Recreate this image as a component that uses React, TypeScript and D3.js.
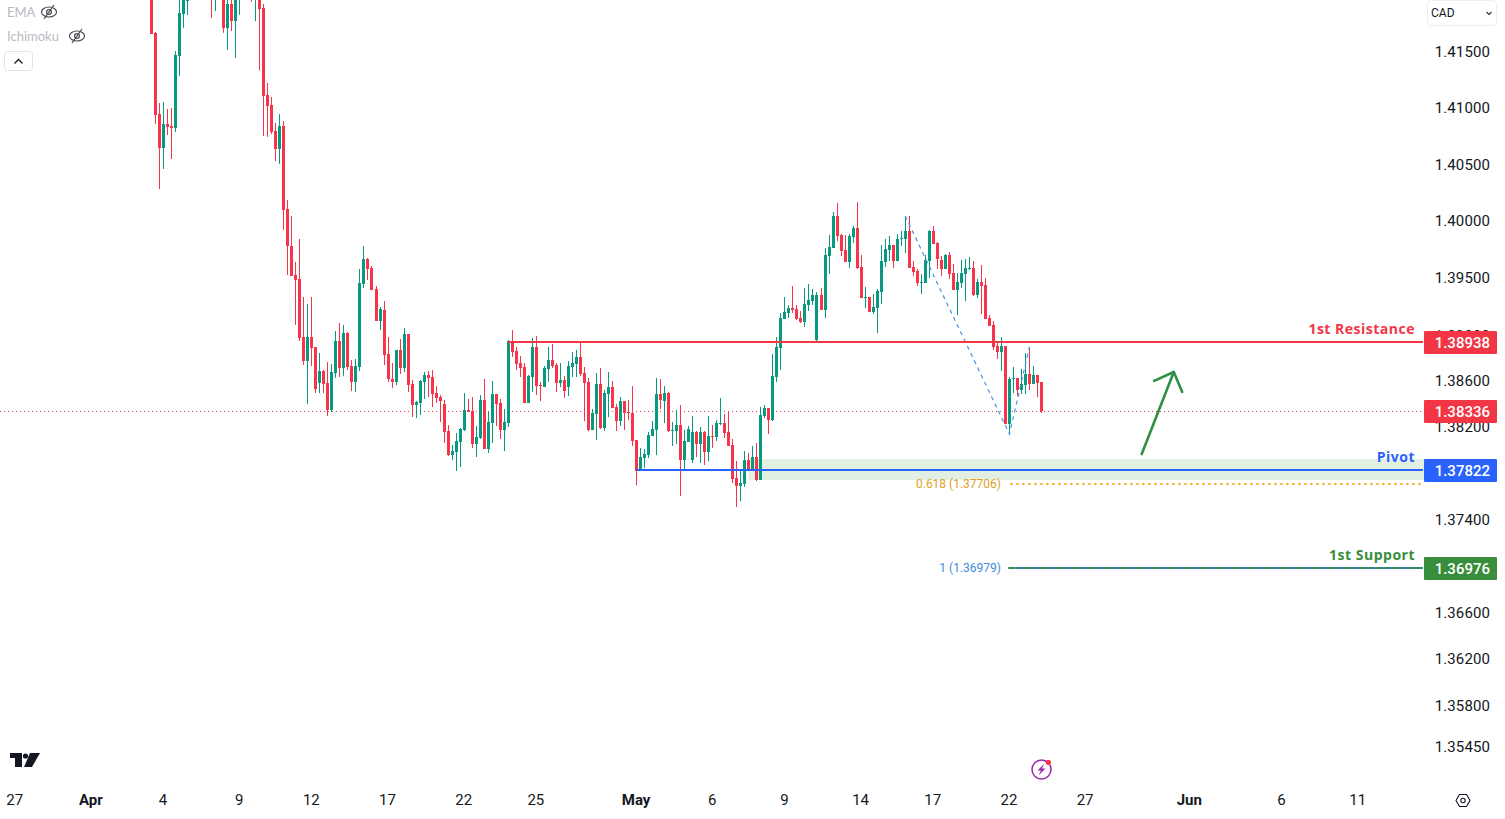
import React, { useEffect, useRef } from "react";
import * as d3 from "d3";

const opens = [
  1.42132,1.41660,1.40942,1.40640,1.40853,1.40835,1.40818,1.41456,1.41829,1.41945,
  1.42078,1.42180,1.42320,1.42250,1.42350,1.42280,1.42050,1.42220,1.42120,1.41705,
  1.41918,1.41767,1.41990,1.42150,1.42250,1.42120,1.42000,1.42180,1.41883,1.41110,
  1.41021,1.40791,1.40631,1.40835,1.40103,1.39777,1.39523,1.39488,1.38980,1.38771,
  1.38980,1.38893,1.38579,1.38684,1.38579,1.38344,1.38667,1.38945,1.38710,1.39015,
  1.38727,1.38588,1.38719,1.39444,1.39663,1.39584,1.39400,1.39120,1.39216,1.38832,
  1.38614,1.38588,1.38867,1.38710,1.39006,1.38570,1.38388,1.38405,1.38588,1.38649,
  1.38632,1.38492,1.38457,1.38396,1.38161,1.37953,1.37980,1.38067,1.38170,1.38344,
  1.38335,1.38049,1.38101,1.38431,1.38006,1.38231,1.38483,1.38405,1.38170,1.38231,
  1.38937,1.38858,1.38754,1.38719,1.38405,1.38632,1.38893,1.38562,1.38544,1.38701,
  1.38780,1.38736,1.38579,1.38605,1.38544,1.38719,1.38745,1.38806,1.38667,1.38588,
  1.38170,1.38309,1.38570,1.38187,1.38483,1.38544,1.38370,1.38248,1.38422,1.38327,
  1.38318,1.38084,1.37823,1.37927,1.37953,1.38119,1.38170,1.38483,1.38422,1.38492,
  1.38161,1.38161,1.38213,1.37910,1.38067,1.37910,1.38153,1.38049,1.38153,1.37980,
  1.38119,1.38110,1.38222,1.38231,1.38153,1.38040,1.37754,1.37685,1.37702,1.37910,
  1.37832,1.37936,1.37737,1.38292,1.38361,1.38257,1.38632,1.38884,1.39137,1.39190,
  1.39234,1.39225,1.39146,1.39112,1.39260,1.39295,1.38954,1.39347,1.39216,1.39689,
  1.39760,1.40041,1.39874,1.39742,1.39636,1.39856,1.39936,1.39593,1.39321,1.39330,
  1.39199,1.39234,1.39374,1.39636,1.39742,1.39786,1.39645,1.39839,1.39839,1.39909,
  1.39593,1.39558,1.39453,1.39453,1.39645,1.39909,1.39804,1.39654,1.39576,1.39698,
  1.39541,1.39391,1.39453,1.39532,1.39576,1.39584,1.39347,1.39461,1.39435,1.39146,
  1.39085,1.38902,1.38850,1.38902,1.38222,1.38614,1.38623,1.38518,1.38562,1.38658,
  1.38570,1.38649,1.38588,
];

const highs = [
  1.42203,1.41669,1.41038,1.41047,1.40986,1.40995,1.41500,1.42025,1.42060,1.42132,
  1.42250,1.42400,1.42450,1.42400,1.42500,1.42400,1.42320,1.42350,1.42220,1.41972,
  1.41981,1.42043,1.42220,1.42320,1.42380,1.42220,1.42250,1.42280,1.41918,1.41215,
  1.41092,1.40862,1.40942,1.40879,1.40182,1.40041,1.39636,1.39839,1.39330,1.39269,
  1.39330,1.38893,1.38841,1.38693,1.38762,1.38745,1.39032,1.39103,1.39085,1.39024,
  1.38780,1.38789,1.39576,1.39777,1.39672,1.39602,1.39426,1.39243,1.39295,1.38980,
  1.38754,1.38867,1.38963,1.39059,1.39006,1.38605,1.38422,1.38605,1.38675,1.38684,
  1.38693,1.38553,1.38475,1.38431,1.38213,1.38040,1.38144,1.38187,1.38492,1.38440,
  1.38457,1.38205,1.38475,1.38614,1.38327,1.38597,1.38483,1.38440,1.38353,1.38954,
  1.39041,1.38893,1.38815,1.38754,1.38649,1.38971,1.38989,1.38588,1.38727,1.38893,
  1.38919,1.38754,1.38754,1.38640,1.38771,1.38850,1.38867,1.38928,1.38719,1.38623,
  1.38353,1.38667,1.38710,1.38518,1.38675,1.38597,1.38396,1.38457,1.38422,1.38431,
  1.38553,1.38084,1.38014,1.38006,1.38153,1.38248,1.38623,1.38614,1.38553,1.38501,
  1.38240,1.38344,1.38388,1.38170,1.38205,1.38292,1.38161,1.38196,1.38161,1.38292,
  1.38213,1.38257,1.38449,1.38309,1.38327,1.38093,1.37901,1.37832,1.37988,1.37971,
  1.38032,1.38058,1.38370,1.38388,1.38361,1.38832,1.38980,1.39190,1.39330,1.39260,
  1.39426,1.39260,1.39208,1.39409,1.39444,1.39400,1.39374,1.39409,1.39760,1.39874,
  1.40077,1.40156,1.39883,1.39874,1.39883,1.39953,1.40164,1.39698,1.39418,1.39330,
  1.39356,1.39400,1.39786,1.39839,1.39865,1.39786,1.39883,1.39909,1.40041,1.40041,
  1.39645,1.39576,1.39532,1.39698,1.39918,1.39953,1.39812,1.39689,1.39707,1.39724,
  1.39619,1.39541,1.39654,1.39663,1.39680,1.39645,1.39488,1.39610,1.39497,1.39172,
  1.39120,1.38937,1.38980,1.38902,1.38632,1.38719,1.38623,1.38701,1.38841,1.38893,
  1.38727,1.38649,1.38588,
];

const lows = [
  1.41652,1.40853,1.40278,1.40455,1.40756,1.40544,1.40782,1.41278,1.41705,1.41820,
  1.42000,1.42050,1.42150,1.42120,1.42200,1.41794,1.41856,1.42050,1.41660,1.41509,
  1.41678,1.41438,1.41820,1.42050,1.42080,1.41936,1.41767,1.41331,1.40747,1.40738,
  1.40764,1.40526,1.40500,1.39918,1.39523,1.39514,1.39085,1.38945,1.38736,1.38396,
  1.38727,1.38492,1.38492,1.38492,1.38292,1.38327,1.38623,1.38632,1.38641,1.38693,
  1.38509,1.38501,1.38684,1.39409,1.39479,1.39391,1.39120,1.39041,1.38736,1.38588,
  1.38536,1.38562,1.38658,1.38675,1.38501,1.38283,1.38274,1.38300,1.38440,1.38457,
  1.38370,1.38405,1.38240,1.38058,1.37945,1.37910,1.37814,1.37849,1.38161,1.38327,
  1.38014,1.37936,1.38093,1.38006,1.37971,1.38058,1.38205,1.38093,1.37988,1.38196,
  1.38806,1.38693,1.38632,1.38405,1.38405,1.38501,1.38475,1.38422,1.38544,1.38588,
  1.38710,1.38501,1.38544,1.38449,1.38466,1.38632,1.38632,1.38640,1.38248,1.38161,
  1.38170,1.38084,1.38179,1.38161,1.38283,1.38361,1.38161,1.38205,1.38170,1.38257,
  1.38032,1.37693,1.37823,1.37840,1.37927,1.38119,1.37953,1.38353,1.38231,1.38153,
  1.38032,1.38049,1.37598,1.37823,1.38067,1.37884,1.37936,1.37884,1.37866,1.37901,
  1.38014,1.38075,1.38213,1.38101,1.38032,1.37711,1.37503,1.37555,1.37676,1.37814,
  1.37823,1.37728,1.37737,1.38274,1.38135,1.38248,1.38588,1.38693,1.39137,1.39146,
  1.39190,1.39129,1.39103,1.39068,1.39208,1.39260,1.38937,1.39216,1.39146,1.39532,
  1.39760,1.39821,1.39689,1.39636,1.39584,1.39804,1.39576,1.39321,1.39234,1.39199,
  1.39181,1.39015,1.39269,1.39593,1.39645,1.39584,1.39645,1.39777,1.39716,1.39584,
  1.39514,1.39426,1.39356,1.39453,1.39497,1.39795,1.39576,1.39514,1.39576,1.39488,
  1.39391,1.39172,1.39409,1.39295,1.39567,1.39339,1.39321,1.39181,1.39137,1.39076,
  1.38867,1.38789,1.38684,1.38222,1.38135,1.38492,1.38466,1.38483,1.38483,1.38518,
  1.38570,1.38457,1.38318,
];

const closes = [
  1.41652,1.40933,1.40640,1.40853,1.40827,1.40818,1.41465,1.41838,1.42025,1.42078,
  1.42180,1.42320,1.42250,1.42350,1.42280,1.42050,1.42220,1.42120,1.41705,1.41918,
  1.41767,1.41990,1.42150,1.42250,1.42120,1.42000,1.42180,1.41874,1.41101,1.41012,
  1.40782,1.40631,1.40835,1.40094,1.39777,1.39514,1.39479,1.38971,1.38771,1.38980,
  1.38884,1.38527,1.38684,1.38570,1.38344,1.38675,1.38945,1.38710,1.39015,1.38719,
  1.38588,1.38727,1.39453,1.39663,1.39576,1.39391,1.39120,1.39225,1.38823,1.38614,
  1.38588,1.38867,1.38710,1.39006,1.38562,1.38388,1.38414,1.38597,1.38649,1.38623,
  1.38483,1.38449,1.38422,1.38153,1.37953,1.37988,1.38075,1.38179,1.38344,1.38327,
  1.38049,1.38110,1.38431,1.38006,1.38240,1.38483,1.38396,1.38170,1.38240,1.38945,
  1.38850,1.38745,1.38710,1.38405,1.38641,1.38893,1.38553,1.38553,1.38710,1.38780,
  1.38727,1.38579,1.38605,1.38509,1.38727,1.38754,1.38806,1.38658,1.38579,1.38170,
  1.38318,1.38570,1.38187,1.38492,1.38544,1.38361,1.38248,1.38422,1.38318,1.38318,
  1.38075,1.37814,1.37936,1.37962,1.38127,1.38179,1.38483,1.38431,1.38492,1.38161,
  1.38170,1.38213,1.37910,1.38075,1.38179,1.38153,1.38049,1.38153,1.37980,1.38119,
  1.38110,1.38231,1.38231,1.38144,1.38032,1.37745,1.37685,1.37711,1.37910,1.37832,
  1.37936,1.37737,1.38300,1.38361,1.38257,1.38640,1.38893,1.39146,1.39199,1.39234,
  1.39216,1.39137,1.39112,1.39269,1.39304,1.39347,1.39347,1.39216,1.39698,1.39768,
  1.40041,1.39865,1.39733,1.39636,1.39865,1.39936,1.39584,1.39321,1.39330,1.39199,
  1.39243,1.39382,1.39645,1.39751,1.39786,1.39645,1.39839,1.39848,1.39909,1.39584,
  1.39549,1.39453,1.39461,1.39654,1.39909,1.39795,1.39663,1.39576,1.39698,1.39532,
  1.39391,1.39461,1.39541,1.39584,1.39584,1.39347,1.39461,1.39426,1.39137,1.39076,
  1.38893,1.38850,1.38902,1.38222,1.38614,1.38623,1.38518,1.38570,1.38658,1.38570,
  1.38649,1.38579,1.38336,
];

// 1.37800 and 1.37000 sit fully behind the price tags in the reference, so they are left out
const priceTicks = [1.415, 1.41, 1.405, 1.4, 1.395, 1.39, 1.386, 1.382, 1.374, 1.366, 1.362, 1.358, 1.3545];

const dateBars = [-34, -15, 3, 22, 40, 59, 78, 96, 121, 140, 158, 177, 195, 214, 233, 259, 282, 301];
const dateLabels = ["27", "Apr", "4", "9", "12", "17", "22", "25", "May", "6", "9", "14", "17", "22", "27", "Jun", "6", "11"];
const monthLabels = ["Apr", "May", "Jun"];

const lastPrice = 1.38336;
const resistance = 1.38938;
const pivot = 1.37822;
const support = 1.36976;
const fib618 = 1.37706;
const fib1 = 1.36979;
const zoneTop = 1.37919;
const zoneBottom = 1.37737;

// zigzag of the fib tool and the green arrow, as [bar, price]
const fibLeg: [number, number][] = [[188, 1.40041], [214, 1.38135], [219, 1.38893]];
const arrowShaft: [number, number][] = [[247, 1.37962], [255, 1.38675]];
const arrowHead: [number, number][] = [[250.1, 1.38597], [255, 1.38675], [257.1, 1.38501]];

const RED = "#f7344a";
const GREEN = "#089981";
const LABEL_RED = "#f23645";
const BLUE = "#2962ff";
const DARK_GREEN = "#388e3c";
const FONT = "Roboto, sans-serif";

const App: React.FC = () => {
  const svgRef = useRef<SVGSVGElement | null>(null);
  const width = 1505;
  const height = 819;
  const axisLeft = 1424;

  useEffect(() => {
    const svg = d3.select(svgRef.current);
    svg.selectAll("*").remove();

    const x = d3.scaleLinear().domain([0, 222]).range([151.5, 1041.5]);
    const y = d3.scaleLog().domain([1.415, 1.374]).range([51, 519]);
    const bars = d3.range(opens.length);

    // Zone behind everything
    svg
      .append("rect")
      .attr("x", x(149))
      .attr("y", y(zoneTop))
      .attr("width", axisLeft - x(149))
      .attr("height", y(zoneBottom) - y(zoneTop))
      .attr("fill", "#e1f0e3");

    // Last price dotted line
    svg
      .append("line")
      .attr("x1", 0)
      .attr("x2", axisLeft)
      .attr("y1", Math.round(y(lastPrice)) + 0.5)
      .attr("y2", Math.round(y(lastPrice)) + 0.5)
      .attr("stroke", LABEL_RED)
      .attr("stroke-dasharray", "1 3");

    // Wicks and bodies
    const candles = svg.append("g").attr("class", "candles");
    candles
      .selectAll("rect.wick")
      .data(bars)
      .enter()
      .append("rect")
      .attr("class", "wick")
      .attr("x", (i) => Math.floor(x(i)))
      .attr("y", (i) => Math.round(y(highs[i])))
      .attr("width", 1)
      .attr("height", (i) => Math.max(1, y(lows[i]) - y(highs[i])))
      .attr("fill", (i) => (closes[i] < opens[i] ? RED : GREEN));
    candles
      .selectAll("rect.body")
      .data(bars)
      .enter()
      .append("rect")
      .attr("class", "body")
      .attr("x", (i) => Math.floor(x(i)) - 1)
      .attr("y", (i) => Math.round(y(Math.max(opens[i], closes[i]))))
      .attr("width", 3)
      .attr("height", (i) => Math.max(1, Math.round(Math.abs(y(opens[i]) - y(closes[i])))))
      .attr("fill", (i) => (closes[i] < opens[i] ? RED : GREEN));

    // Fib leg, dashed
    const line = d3
      .line<[number, number]>()
      .x((d) => x(d[0]))
      .y((d) => y(d[1]));
    svg
      .append("path")
      .attr("d", line(fibLeg))
      .attr("fill", "none")
      .attr("stroke", "#4a90e2")
      .attr("stroke-width", 1.2)
      .attr("stroke-dasharray", "4 4");

    // Level lines
    const hline = (price: number, from: number, color: string, w: number, dash?: string) =>
      svg
        .append("line")
        .attr("x1", from)
        .attr("x2", axisLeft - 1)
        .attr("y1", Math.round(y(price)))
        .attr("y2", Math.round(y(price)))
        .attr("stroke", color)
        .attr("stroke-width", w)
        .attr("stroke-dasharray", dash ?? null);

    hline(resistance, x(89), LABEL_RED, 2);
    hline(pivot, x(121), BLUE, 2);
    hline(fib618, x(214) + 1, "#f0a30a", 2, "2 4");
    hline(fib1, x(214) - 1, "#2f80ed", 2);
    hline(support, x(214) - 1, DARK_GREEN, 2, "5 3");

    // Fib labels
    const fibText = (label: string, price: number, color: string) =>
      svg
        .append("text")
        .attr("x", 1001)
        .attr("y", y(price) + 4)
        .attr("text-anchor", "end")
        .attr("font-family", FONT)
        .attr("font-size", 12)
        .attr("fill", color)
        .text(label);
    fibText("0.618 (1.37706)", fib618, "#e0a126");
    fibText("1 (1.36979)", fib1, "#3d8bdc");

    // Arrow
    [arrowShaft, arrowHead].forEach((pts) =>
      svg
        .append("path")
        .attr("d", line(pts))
        .attr("fill", "none")
        .attr("stroke", "#2f8f42")
        .attr("stroke-width", 2.6)
        .attr("stroke-linecap", "round")
        .attr("stroke-linejoin", "round")
    );

    // Level names
    const levelName = (label: string, price: number, color: string) =>
      svg
        .append("text")
        .attr("x", 1415)
        .attr("y", y(price) - 8)
        .attr("text-anchor", "end")
        .attr("font-family", "'Open Sans', sans-serif")
        .attr("font-size", 14)
        .attr("font-weight", 700)
        .attr("letter-spacing", 0.5)
        .attr("fill", color)
        .text(label);
    levelName("1st Resistance", resistance, LABEL_RED);
    levelName("Pivot", pivot, BLUE);
    levelName("1st Support", support, DARK_GREEN);

    // Price axis
    const yAxis = d3
      .axisRight(y)
      .tickValues(priceTicks)
      .tickFormat(d3.format(".5f") as any)
      .tickSize(0);
    svg
      .append("g")
      .attr("transform", `translate(${axisLeft},0.5)`)
      .call(yAxis)
      .call((g) => g.select(".domain").remove())
      .call((g) =>
        g
          .selectAll("text")
          .attr("x", 66)
          .attr("text-anchor", "end")
          .attr("font-family", FONT)
          .attr("font-size", 15)
          .attr("letter-spacing", 0.1)
          .attr("fill", "#131722")
      );

    // Time axis
    const xAxis = d3
      .axisBottom(x)
      .tickValues(dateBars)
      .tickFormat((_, i) => dateLabels[i])
      .tickSize(0);
    svg
      .append("g")
      .attr("transform", "translate(-1,791.5)")
      .call(xAxis)
      .call((g) => g.select(".domain").remove())
      .call((g) =>
        g
          .selectAll<SVGTextElement, number>("text")
          .attr("font-family", FONT)
          .attr("font-size", 15)
          .attr("fill", "#131722")
          .attr("font-weight", (_, i) => (monthLabels.includes(dateLabels[i]) ? 700 : 400))
      );

    // Axis price tags
    const tag = (price: number, color: string) => {
      const yy = Math.round(y(price));
      svg
        .append("rect")
        .attr("x", axisLeft)
        .attr("y", yy - 11)
        .attr("width", 73)
        .attr("height", 23)
        .attr("rx", 1)
        .attr("fill", color);
      svg
        .append("text")
        .attr("x", axisLeft + 66)
        .attr("y", yy + 6)
        .attr("text-anchor", "end")
        .attr("font-family", FONT)
        .attr("font-size", 15)
        .attr("font-weight", 500)
        .attr("fill", "#fff")
        .text(d3.format(".5f")(price));
    };
    tag(resistance, LABEL_RED);
    tag(lastPrice, LABEL_RED);
    tag(pivot, BLUE);
    tag(support, DARK_GREEN);

    // Top left indicator legend
    const legend = (label: string, ty: number, iconX: number) => {
      svg
        .append("text")
        .attr("x", 7)
        .attr("y", ty + 5)
        .attr("font-family", "Lato, sans-serif")
        .attr("font-size", 13)
        .attr("fill", "#b8bbc4")
        .text(label);
      const icon = svg
        .append("g")
        .attr("transform", `translate(${iconX},${ty})`)
        .attr("fill", "none")
        .attr("stroke", "#45484f")
        .attr("stroke-width", 1.2);
      icon.append("ellipse").attr("rx", 7.5).attr("ry", 5);
      icon.append("circle").attr("r", 2.4);
      icon.append("line").attr("x1", -5).attr("y1", 7).attr("x2", 5).attr("y2", -7);
    };
    legend("EMA", 12, 49);
    legend("Ichimoku", 36, 77);

    svg
      .append("rect")
      .attr("x", 4.5)
      .attr("y", 51.5)
      .attr("width", 28)
      .attr("height", 19)
      .attr("rx", 3)
      .attr("fill", "#fff")
      .attr("stroke", "#e0e3eb");
    svg
      .append("path")
      .attr("d", "M14.5 63.5 L18.5 59.5 L22.5 63.5")
      .attr("fill", "none")
      .attr("stroke", "#131722")
      .attr("stroke-width", 1.3);

    // Currency selector
    svg
      .append("rect")
      .attr("x", 1427.5)
      .attr("y", 0.5)
      .attr("width", 69)
      .attr("height", 25)
      .attr("rx", 4)
      .attr("fill", "#fff")
      .attr("stroke", "#eceef2");
    svg
      .append("text")
      .attr("x", 1431)
      .attr("y", 17)
      .attr("font-family", FONT)
      .attr("font-size", 12)
      .attr("fill", "#131722")
      .text("CAD");
    svg
      .append("path")
      .attr("d", "M1486.5 12 L1489 14.5 L1491.5 12")
      .attr("fill", "none")
      .attr("stroke", "#333")
      .attr("stroke-width", 1.2);

    // TradingView logo
    const logo = svg.append("g").attr("fill", "#131722");
    logo.append("path").attr("d", "M10 753 H22 V767 H15 V758 H10 Z");
    logo.append("circle").attr("cx", 25.5).attr("cy", 756).attr("r", 2.6);
    logo.append("path").attr("d", "M30 753 H40 L32 767 H24 Z");

    // Lightning badge
    svg
      .append("circle")
      .attr("cx", 1041.5)
      .attr("cy", 769.5)
      .attr("r", 9.5)
      .attr("fill", "none")
      .attr("stroke", "#9c27b0")
      .attr("stroke-width", 1.5);
    svg
      .append("path")
      .attr("d", "M1044.5 763.5 L1037.5 770.5 H1041 L1038.5 775.5 L1045.5 768.5 H1042 Z")
      .attr("fill", "#9c27b0");
    svg.append("circle").attr("cx", 1048.3).attr("cy", 762.3).attr("r", 2.6).attr("fill", LABEL_RED);

    // Settings gear
    svg
      .append("path")
      .attr("d", "M1459.5 794.5 H1466.5 L1470 800.5 L1466.5 806.5 H1459.5 L1456 800.5 Z")
      .attr("fill", "none")
      .attr("stroke", "#131722")
      .attr("stroke-width", 1.1);
    svg
      .append("circle")
      .attr("cx", 1463)
      .attr("cy", 800.5)
      .attr("r", 2.2)
      .attr("fill", "none")
      .attr("stroke", "#131722")
      .attr("stroke-width", 1.1);
  }, []);

  return (
    <svg
      ref={svgRef}
      width={width}
      height={height}
      style={{ position: "fixed", left: 0, top: 0, background: "#fff" }}
    ></svg>
  );
};

export default App;
